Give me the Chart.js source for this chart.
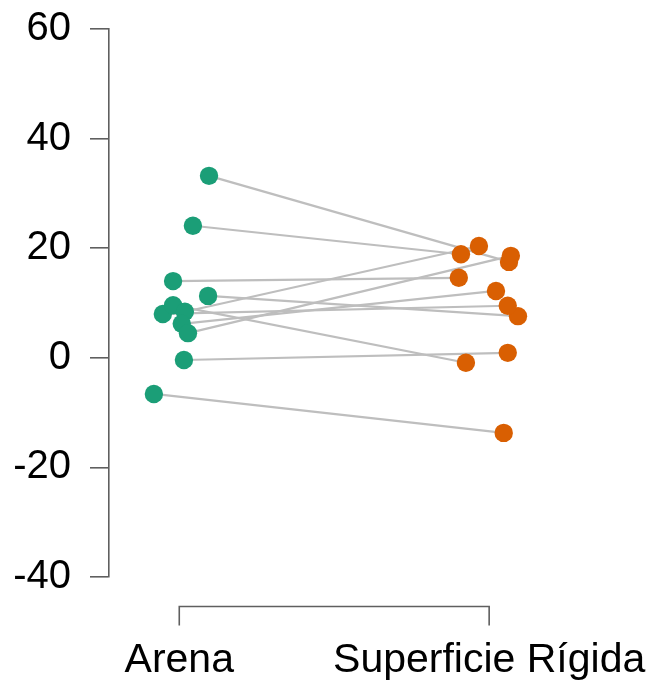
<!DOCTYPE html>
<html>
<head>
<meta charset="utf-8">
<script src="https://cdn.jsdelivr.net/npm/chart.js@4"></script>
<style>
  html, body { margin: 0; padding: 0; background: #fff; }
  #wrap { width: 651px; height: 683px; }
</style>
</head>
<body>
<div id="wrap"><canvas id="c" width="651" height="683"></canvas></div>
<script>
// ---- data ----
const categories = ['Arena', 'Superficie Rígida'];
// paired values: arena[i] is linked to rigida[i]
const arena  = [33.2, 24.1, 14.0, 11.3, 8.0, 9.6, 8.4, 6.2, 4.5, -0.4, -6.6];
const rigida = [17.5, 18.9, 14.6, 7.6, 9.5, -0.9, 20.4, 12.2, 18.6, 0.9, -13.7];
// horizontal jitter (category units) of each point
const arenaJitter  = [0.096, 0.044, -0.020, 0.093, -0.053, -0.020, 0.018, 0.008, 0.028, 0.015, -0.082];
const rigidaJitter = [0.064, -0.091, -0.098, 0.093, 0.060, -0.075, -0.033, 0.022, 0.070, 0.060, 0.047];
const yTicks = [-40, -20, 0, 20, 40, 60];

const GREEN = '#1b9e77';
const ORANGE = '#d95f02';
const LINEGRAY = '#bebebe';
const AXIS = '#5f5f5f';
const FONT = "'Liberation Sans', Arial, Helvetica, sans-serif";

const lineSets = arena.map((a, i) => ({
  type: 'line',
  data: [{x: 1 + arenaJitter[i], y: a}, {x: 2 + rigidaJitter[i], y: rigida[i]}],
  borderColor: LINEGRAY,
  borderWidth: 2.2,
  pointRadius: 0,
  fill: false,
  order: 5
}));

const arenaPts = {
  type: 'scatter',
  data: arena.map((v, i) => ({x: 1 + arenaJitter[i], y: v})),
  backgroundColor: GREEN,
  borderColor: GREEN,
  pointRadius: 9.2,
  borderWidth: 0,
  order: 1
};
const rigidaPts = {
  type: 'scatter',
  data: rigida.map((v, i) => ({x: 2 + rigidaJitter[i], y: v})),
  backgroundColor: ORANGE,
  borderColor: ORANGE,
  pointRadius: 9.2,
  borderWidth: 0,
  order: 1
};

const bracketPlugin = {
  id: 'bracket',
  afterDraw(chart) {
    const ctx = chart.ctx;
    const xs = chart.scales.x;
    const x1 = xs.getPixelForValue(1);
    const x2 = xs.getPixelForValue(categories.length);
    const yb = chart.chartArea.bottom + 29.5;
    const yt = yb + 19;
    ctx.save();
    ctx.strokeStyle = AXIS;
    ctx.lineWidth = 1.6;
    ctx.beginPath();
    ctx.moveTo(x1, yt); ctx.lineTo(x1, yb); ctx.lineTo(x2, yb); ctx.lineTo(x2, yt);
    ctx.stroke();
    ctx.restore();
  }
};

const LEFT = 109, PXPERCAT = 310, CAT1PX = 179.3, RIGHT = 642;
const xMin = 1 - (CAT1PX - LEFT) / PXPERCAT;
const xMax = xMin + (RIGHT - LEFT) / PXPERCAT;

new Chart(document.getElementById('c'), {
  data: { datasets: [arenaPts, rigidaPts, ...lineSets] },
  plugins: [bracketPlugin],
  options: {
    responsive: false,
    animation: false,
    layout: { padding: { top: 29, left: 0, right: 0, bottom: 0 } },
    plugins: { legend: { display: false }, tooltip: { enabled: false } },
    scales: {
      x: {
        type: 'linear',
        min: xMin,
        max: xMax,
        afterBuildTicks: s => { s.ticks = categories.map((c, i) => ({ value: i + 1 })); },
        afterFit: s => { s.height = 106; s.paddingLeft = 0; s.paddingRight = 0; },
        ticks: {
          autoSkip: false,
          maxRotation: 0,
          padding: 59,
          color: '#000',
          font: { family: FONT, size: 41 },
          callback: (v) => categories[Math.round(v) - 1] || ''
        },
        grid: { display: false, drawTicks: false },
        border: { display: false }
      },
      y: {
        type: 'linear',
        min: -40,
        max: 60,
        afterBuildTicks: s => { s.ticks = yTicks.map(v => ({ value: v })); },
        afterFit: s => { s.width = LEFT; s.paddingTop = 0; s.paddingBottom = 0; },
        ticks: {
          padding: 19,
          color: '#000',
          font: { family: FONT, size: 40 }
        },
        grid: {
          drawOnChartArea: false,
          drawTicks: true,
          tickLength: 19,
          color: AXIS,
          lineWidth: 1.6
        },
        border: { display: true, color: AXIS, width: 1.6 }
      }
    }
  }
});
</script>
</body>
</html>
